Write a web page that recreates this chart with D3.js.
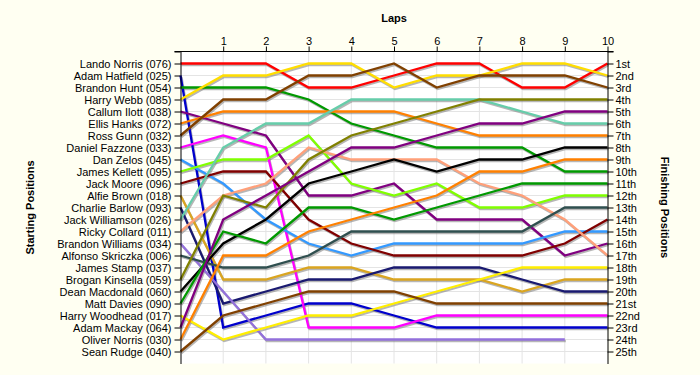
<!DOCTYPE html>
<html>
<head>
<meta charset="utf-8">
<script src="https://cdn.jsdelivr.net/npm/d3@7"></script>
<style>
  body { margin: 0; background: #fffff2; }
  svg text { font-family: "Liberation Sans", Arial, sans-serif; }
</style>
</head>
<body>
<div id="chart"></div>
<script>
// laps along the top axis
const laps = [0, 1, 2, 3, 4, 5, 6, 7, 8, 9, 10];

// starting grid, in order
const drivers = [
    'Lando Norris (076)', 'Adam Hatfield (025)', 'Brandon Hunt (054)', 'Harry Webb (085)',
    'Callum Ilott (038)', 'Ellis Hanks (072)', 'Ross Gunn (032)', 'Daniel Fazzone (033)',
    'Dan Zelos (045)', 'James Kellett (095)', 'Jack Moore (096)', 'Alfie Brown (018)',
    'Charlie Barlow (093)', 'Jack Williamson (026)', 'Ricky Collard (011)', 'Brandon Williams (034)',
    'Alfonso Skriczka (006)', 'James Stamp (037)', 'Brogan Kinsella (059)', 'Dean Macdonald (060)',
    'Matt Davies (090)', 'Harry Woodhead (017)', 'Adam Mackay (064)', 'Oliver Norris (030)',
    'Sean Rudge (040)'
];

const finishLabels = [
    '1st', '2nd', '3rd', '4th', '5th', '6th', '7th', '8th', '9th', '10th', '11th', '12th', '13th',
    '14th', '15th', '16th', '17th', '18th', '19th', '20th', '21st', '22nd', '23rd', '24th', '25th'
];

const lineColors = [
    '#ff0000', '#0000cc', '#009900', '#ffdd00', '#800080', '#ff8000', '#804000', '#ff00ff',
    '#3399ff', '#80ff00', '#800000', '#daa520', '#191970', '#66cdaa', '#ffa07a', '#9370db',
    '#2f4f4f', '#999999', '#808000', '#000000', '#009900', '#ffee00', '#800080', '#ff8000',
    '#804000'
];

// position of each driver at the end of each lap (null = not running)
const lapPositions = [
    [1, 1, 1, 3, 3, 2, 1, 1, 3, 3, 1],
    [2, 23, 22, 21, 21, 22, 23, 23, 23, 23, 23],
    [3, 3, 3, 4, 6, 7, 8, 8, 8, 10, 10],
    [4, 2, 2, 1, 1, 3, 2, 2, 1, 1, 2],
    [5, 6, 7, 12, 12, 11, 14, 14, 14, 17, 16],
    [6, 5, 5, 5, 5, 5, 6, 7, 7, 7, 7],
    [7, 4, 4, 2, 2, 1, 3, 2, 2, 2, 3],
    [8, 7, 8, 23, 23, 23, 22, 22, 22, 22, 22],
    [9, 11, 14, 16, 17, 16, 16, 16, 16, 15, 15],
    [10, 9, 9, 7, 11, 12, 11, 13, 13, 12, 12],
    [11, 10, 10, 14, 16, 17, 17, 17, 17, 16, 14],
    [12, 19, 19, 18, 18, 19, 19, 19, 20, 19, 19],
    [13, 21, 20, 19, 19, 18, 18, 18, 19, 20, 20],
    [14, 8, 6, 6, 4, 4, 4, 4, 5, 6, 6],
    [15, 12, 11, 8, 9, 9, 9, 11, 12, 14, 17],
    [16, 20, 24, 24, 24, 24, 24, 24, 24, 24, null],
    [17, 18, 18, 17, 15, 15, 15, 15, 15, 13, 13],
    [null, null, null, null, null, null, null, null, null, null, null],
    [19, 12, 13, 9, 7, 6, 5, 4, 4, 4, 4],
    [20, 16, 14, 11, 10, 9, 10, 9, 9, 8, 8],
    [21, 15, 16, 13, 13, 14, 13, 12, 11, 11, 11],
    [22, 24, 23, 22, 22, 21, 20, 19, 18, 18, 18],
    [23, 14, 12, 10, 8, 8, 7, 6, 6, 5, 5],
    [24, 17, 17, 15, 14, 13, 12, 10, 10, 9, 9],
    [25, 22, 21, 20, 20, 20, 21, 21, 21, 21, 21]
];

const width = 700, height = 375;
const positions = d3.range(1, drivers.length + 1);

const svg = d3.select('#chart')
    .append('svg')
    .attr('width', width)
    .attr('height', height);

svg.append('rect')
    .attr('width', width)
    .attr('height', height)
    .attr('fill', '#fffff2');

const x = d3.scaleLinear().domain([0, 10]).range([180.5, 607.5]);
const y = d3.scaleLinear().domain([0, 26]).range([51.5, 363.5]);

// plot background + grid
svg.append('rect')
    .attr('x', x(0)).attr('y', y(0))
    .attr('width', x(10) - x(0)).attr('height', y(26) - y(0))
    .attr('fill', '#ffffff');

svg.append('g')
    .selectAll('line')
    .data(positions)
    .join('line')
    .attr('x1', x(0)).attr('x2', x(10))
    .attr('y1', (d) => y(d)).attr('y2', (d) => y(d))
    .attr('stroke', '#e4e4e4');

svg.append('g')
    .selectAll('line')
    .data(laps.slice(1, -1))
    .join('line')
    .attr('x1', (d) => x(d)).attr('x2', (d) => x(d))
    .attr('y1', y(0)).attr('y2', y(26))
    .attr('stroke', '#e4e4e4');

// driver lines
const lineFunc = d3.line()
    .defined((d) => d != null)
    .x((d, i) => x(laps[i]))
    .y((d) => y(d))
    .curve(d3.curveLinear);

const series = lapPositions
    .map((p, i) => ({name: drivers[i], color: lineColors[i], values: p}))
    .filter((s) => s.values.some((v) => v != null));

svg.append('g')
    .attr('transform', 'translate(1,1.5)')
    .selectAll('path')
    .data(series)
    .join('path')
    .attr('d', (d) => lineFunc(d.values))
    .attr('fill', 'none')
    .attr('stroke', '#7a7a7a')
    .attr('stroke-opacity', 0.55)
    .attr('stroke-width', 2.3);

svg.append('g')
    .selectAll('path')
    .data(series)
    .join('path')
    .attr('d', (d) => lineFunc(d.values))
    .attr('fill', 'none')
    .attr('stroke', (d) => d.color)
    .attr('stroke-width', 2.3)
    .attr('stroke-linejoin', 'miter');

// axes
const styleAxis = (g) => {
    g.selectAll('text')
        .attr('fill', '#000')
        .style('font-size', '11px');
    g.selectAll('line, path').attr('stroke', '#000');
};

svg.append('g')
    .attr('transform', `translate(0,${y(0)})`)
    .call(d3.axisTop(x).tickValues(laps.slice(1)).tickSize(5).tickSizeOuter(0).tickPadding(2))
    .call(styleAxis)
    .call((g) => g.select('.domain').remove());

svg.append('g')
    .attr('transform', `translate(${x(0)},0)`)
    .call(d3.axisLeft(y).tickValues([0].concat(positions)).tickSize(6).tickSizeOuter(0).tickPadding(3)
        .tickFormat((d) => (d ? drivers[d - 1] : '')))
    .call(styleAxis);

svg.append('g')
    .attr('transform', `translate(${x(10)},0)`)
    .call(d3.axisRight(y).tickValues([0].concat(positions)).tickSize(6).tickSizeOuter(0).tickPadding(2)
        .tickFormat((d) => (d ? finishLabels[d - 1] : '')))
    .call(styleAxis);

svg.append('line')
    .attr('x1', x(0) - 6).attr('x2', x(10) + 6)
    .attr('y1', y(0)).attr('y2', y(0))
    .attr('stroke', '#000');

// titles
svg.append('text')
    .attr('x', (x(0) + x(10)) / 2).attr('y', 22)
    .attr('text-anchor', 'middle')
    .style('font-size', '11px').style('font-weight', 'bold')
    .text('Laps');

svg.append('text')
    .attr('transform', `translate(34,${y(13)}) rotate(-90)`)
    .attr('text-anchor', 'middle')
    .style('font-size', '11px').style('font-weight', 'bold')
    .text('Starting Positions');

svg.append('text')
    .attr('transform', `translate(661,${y(13)}) rotate(90)`)
    .attr('text-anchor', 'middle')
    .style('font-size', '11px').style('font-weight', 'bold')
    .text('Finishing Positions');
</script>
</body>
</html>
